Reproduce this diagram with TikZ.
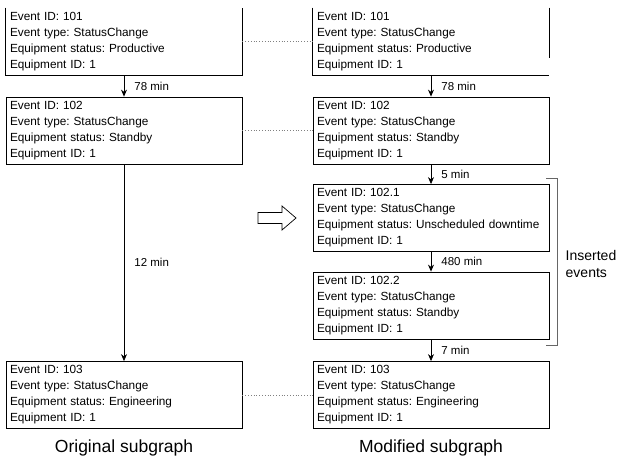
\documentclass[tikz,border=0pt]{standalone}
\usepackage{fontspec}
\setmainfont{Liberation Sans}
\usetikzlibrary{arrows.meta}
\begin{document}
\frenchspacing
\begin{tikzpicture}[x=1pt,y=-1pt,
  evbox/.style={draw, line width=0.8pt, minimum width=236pt, minimum height=67pt,
    text width=228pt, align=left, inner xsep=4pt, inner ysep=3pt,
    font=\fontsize{11.8}{16}\selectfont},
  openbox/.style={evbox, draw=none},
  flow/.style={line width=0.8pt, -{Stealth[length=7pt,width=6pt]}},
  lbl/.style={font=\fontsize{11.5}{14}\selectfont, anchor=west, inner sep=2pt, xshift=8pt},
  link/.style={dotted, draw=gray, line width=0.8pt},
  brk/.style={draw=gray!80!black, line width=0.8pt},
  title/.style={font=\fontsize{17.5}{22}\selectfont}]
\useasboundingbox (0,0) rectangle (617,462);
\clip (0,0) rectangle (617,462);

% left column
\node[openbox] (L101) at (124,41.5) {Event ID: 101\\Event type: StatusChange\\Equipment status: Productive\\Equipment ID: 1};
\draw[line width=0.8pt] (L101.north west) -- (L101.south west) -- (L101.south east) -- (L101.north east);
\node[evbox] (L102) at (124,130.5) {Event ID: 102\\Event type: StatusChange\\Equipment status: Standby\\Equipment ID: 1};
\node[evbox] (L103) at (124,395) {Event ID: 103\\Event type: StatusChange\\Equipment status: Engineering\\Equipment ID: 1};

\draw[flow] (L101.south) -- node[lbl] {78 min} (L102.north);
\draw[flow] (L102.south) -- node[lbl] {12 min} (L103.north);

% right column
\node[openbox] (R101) at (431,41.5) {Event ID: 101\\Event type: StatusChange\\Equipment status: Productive\\Equipment ID: 1};
\draw[line width=0.8pt] (R101.north west) -- (R101.south west) -- (R101.south east);
\draw[line width=0.8pt] (R101.north east) -- ([yshift=-50pt]R101.north east);
\node[evbox] (R102) at (431,130.5) {Event ID: 102\\Event type: StatusChange\\Equipment status: Standby\\Equipment ID: 1};
\node[evbox] (R1021) at (431,218) {Event ID: 102.1\\Event type: StatusChange\\Equipment status: Unscheduled downtime\\Equipment ID: 1};
\node[evbox] (R1022) at (431,305.5) {Event ID: 102.2\\Event type: StatusChange\\Equipment status: Standby\\Equipment ID: 1};
\node[evbox] (R103) at (431,395) {Event ID: 103\\Event type: StatusChange\\Equipment status: Engineering\\Equipment ID: 1};

\draw[flow] (R101.south) -- node[lbl] {78 min} (R102.north);
\draw[flow] (R102.south) -- node[lbl] {5 min} (R1021.north);
\draw[flow] (R1021.south) -- node[lbl] {480 min} (R1022.north);
\draw[flow] (R1022.south) -- node[lbl] {7 min} (R103.north);

% dotted links
\draw[link] (L101.east) -- (R101.west);
\draw[link] (L102.east) -- (R102.west);
\draw[link] (L103.east) -- (R103.west);

% bracket
\coordinate (bt) at (546,178);
\coordinate (bb) at (546,345);
\draw[brk] (bt) -- ++(11,0) |- (bb);
\node[font=\fontsize{14}{17}\selectfont, align=left, anchor=west, inner sep=0pt] (ins) at (565.5,264) {Inserted\\events};

% hollow arrow
\draw[line width=0.7pt, fill=white] (258,212.5) -- (282,212.5) -- (282,206) -- (296,218) -- (282,230) -- (282,223.5) -- (258,223.5) -- cycle;

% titles
\node[title] (t1) at (124,448) {Original subgraph};
\node[title] (t2) at (431,448) {Modified subgraph};
\end{tikzpicture}
\end{document}
